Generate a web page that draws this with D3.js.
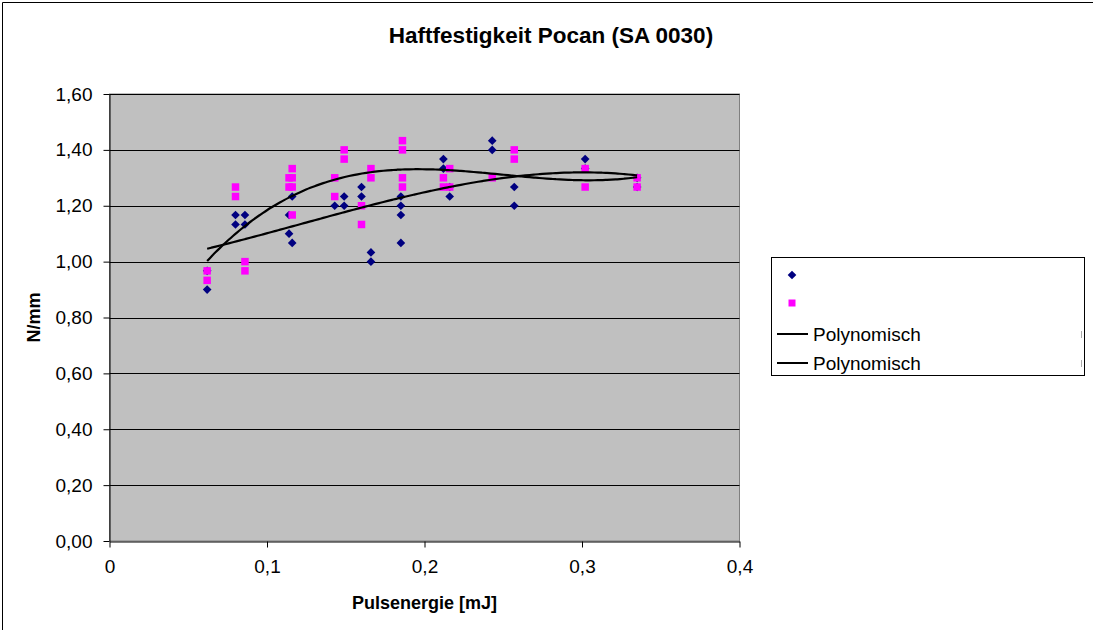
<!DOCTYPE html>
<html>
<head>
<meta charset="utf-8">
<script src="https://cdn.jsdelivr.net/npm/d3@7/dist/d3.min.js"></script>
<style>
  html, body { margin: 0; padding: 0; background: #fff; }
  svg { display: block; }
  text { font-family: "Liberation Sans", Arial, sans-serif; }
</style>
</head>
<body>
<svg id="chart" width="1093" height="630"></svg>
<script>
// ---- Data ----
const title = "Haftfestigkeit Pocan (SA 0030)";
const xTitle = "Pulsenergie [mJ]";
const yTitle = "N/mm";
const xTicks = [0, 0.1, 0.2, 0.3, 0.4];
const yTicks = [0, 0.2, 0.4, 0.6, 0.8, 1.0, 1.2, 1.4, 1.6];
const legendLabels = ["", "", "Polynomisch", "Polynomisch"];

// Series 1 (navy diamonds)
const seriesAx = [0.062, 0.062, 0.080, 0.080, 0.086, 0.086, 0.114, 0.114, 0.116, 0.116,
                  0.143, 0.149, 0.149, 0.160, 0.160, 0.166, 0.166,
                  0.185, 0.185, 0.185, 0.185, 0.212, 0.212, 0.216, 0.216,
                  0.243, 0.243, 0.257, 0.257, 0.302, 0.302, 0.335, 0.335];
const seriesAy = [0.900, 0.967, 1.167, 1.133, 1.167, 1.133, 1.167, 1.100, 1.233, 1.067,
                  1.200, 1.233, 1.200, 1.267, 1.233, 1.033, 1.000,
                  1.233, 1.200, 1.167, 1.067, 1.367, 1.333, 1.267, 1.233,
                  1.433, 1.400, 1.267, 1.200, 1.367, 1.333, 1.300, 1.267];

// Series 2 (magenta squares)
const seriesBx = [0.062, 0.062, 0.080, 0.080, 0.086, 0.086, 0.114, 0.114,
                  0.116, 0.116, 0.116, 0.116, 0.143, 0.143, 0.149, 0.149,
                  0.160, 0.160, 0.166, 0.166, 0.186, 0.186, 0.186, 0.186,
                  0.212, 0.212, 0.216, 0.216, 0.243, 0.257, 0.257,
                  0.302, 0.302, 0.335, 0.335];
const seriesBy = [0.967, 0.933, 1.267, 1.233, 1.000, 0.967, 1.300, 1.267,
                  1.333, 1.300, 1.267, 1.167, 1.300, 1.233, 1.400, 1.367,
                  1.200, 1.133, 1.333, 1.300, 1.433, 1.400, 1.300, 1.267,
                  1.300, 1.267, 1.333, 1.267, 1.300, 1.400, 1.367,
                  1.333, 1.267, 1.300, 1.267];

const trendOrder = 3;

// ---- Layout ----
const W = 1093, H = 630;
const plot = { left: 109.5, right: 739.5, top: 94, bottom: 541 };
const fmt = d3.format(".2f");
const comma = v => String(v).replace(".", ",");

const svg = d3.select("#chart");

// outer border
svg.append("path")
  .attr("d", `M2.5,${H + 5} L2.5,2.5 L${W + 5},2.5`)
  .attr("fill", "none").attr("stroke", "#000").attr("stroke-width", 1);

const x = d3.scaleLinear().domain([0, 0.4]).range([plot.left, plot.right]);
const y = d3.scaleLinear().domain([0, 1.6]).range([plot.bottom, plot.top]);

// plot background
svg.append("rect")
  .attr("x", plot.left).attr("y", plot.top)
  .attr("width", plot.right - plot.left).attr("height", plot.bottom - plot.top)
  .attr("fill", "#c0c0c0").attr("stroke", "#808080").attr("stroke-width", 1);

// gridlines
svg.append("g").selectAll("line").data(yTicks.filter(v => v > 0)).join("line")
  .attr("x1", plot.left).attr("x2", plot.right)
  .attr("y1", d => Math.round(y(d)) + 0.5).attr("y2", d => Math.round(y(d)) + 0.5)
  .attr("stroke", "#000").attr("stroke-width", 1.2);

// axes
const xAxis = d3.axisBottom(x).tickValues(xTicks).tickSize(6).tickSizeOuter(0)
  .tickFormat(d => d === 0 ? "0" : comma(d3.format(".1f")(d)));
const gx = svg.append("g").attr("transform", `translate(0,${plot.bottom + 0.5})`).call(xAxis);
gx.select(".domain").attr("stroke", "#000");
gx.selectAll(".tick line").attr("stroke", "#000");
gx.selectAll(".tick text").attr("font-size", 19).attr("fill", "#000")
  .attr("font-family", "Liberation Sans, Arial, sans-serif").attr("dy", "1.2em");

const yAxis = d3.axisLeft(y).tickValues(yTicks).tickSize(6).tickSizeOuter(0)
  .tickFormat(d => comma(fmt(d)));
const gy = svg.append("g").attr("transform", `translate(${plot.left},0)`).call(yAxis);
gy.select(".domain").attr("stroke", "#000");
gy.selectAll(".tick line").attr("stroke", "#000");
gy.selectAll(".tick text").attr("font-size", 19).attr("fill", "#000")
  .attr("font-family", "Liberation Sans, Arial, sans-serif").attr("x", -17);

// titles
svg.append("text").attr("x", 551).attr("y", 43).attr("text-anchor", "middle")
  .attr("font-size", 22.5).attr("font-weight", "bold").text(title);
svg.append("text").attr("x", (plot.left + plot.right) / 2).attr("y", 609).attr("text-anchor", "middle")
  .attr("font-size", 18).attr("font-weight", "bold").text(xTitle);
svg.append("text").attr("transform", `translate(40,${(plot.top + plot.bottom) / 2}) rotate(-90)`)
  .attr("text-anchor", "middle").attr("font-size", 18).attr("font-weight", "bold").text(yTitle);

// markers
const diamond = d3.symbol().type(d3.symbolDiamond2).size(48);
const clipId = "plotclip";
svg.append("clipPath").attr("id", clipId).append("rect")
  .attr("x", plot.left).attr("y", plot.top)
  .attr("width", plot.right - plot.left).attr("height", plot.bottom - plot.top);

const dataA = seriesAx.map((v, i) => [v, seriesAy[i]]);
const dataB = seriesBx.map((v, i) => [v, seriesBy[i]]);

svg.append("g").selectAll("path").data(dataA).join("path")
  .attr("transform", d => `translate(${x(d[0])},${y(d[1])})`)
  .attr("d", diamond).attr("fill", "#000080");

const sq = 7.5;
svg.append("g").selectAll("rect").data(dataB).join("rect")
  .attr("x", d => x(d[0]) - sq / 2).attr("y", d => y(d[1]) - sq / 2)
  .attr("width", sq).attr("height", sq).attr("fill", "#ff00ff");

// polynomial least squares fit (trendline, as the original chart computes it)
function polyFit(xs, ys, order) {
  const n = order + 1;
  const A = Array.from({ length: n }, () => new Array(n + 1).fill(0));
  for (let k = 0; k < xs.length; k++) {
    for (let i = 0; i < n; i++) {
      for (let j = 0; j < n; j++) A[i][j] += Math.pow(xs[k], i + j);
      A[i][n] += ys[k] * Math.pow(xs[k], i);
    }
  }
  for (let c = 0; c < n; c++) {
    let p = c;
    for (let r = c + 1; r < n; r++) if (Math.abs(A[r][c]) > Math.abs(A[p][c])) p = r;
    [A[c], A[p]] = [A[p], A[c]];
    for (let r = 0; r < n; r++) {
      if (r === c) continue;
      const f = A[r][c] / A[c][c];
      for (let j = c; j <= n; j++) A[r][j] -= f * A[c][j];
    }
  }
  return A.map((row, i) => row[n] / row[i]);
}
function trend(xs, ys) {
  const coef = polyFit(xs, ys, trendOrder);
  const x0 = d3.min(xs), x1 = d3.max(xs);
  return d3.range(0, 101).map(i => {
    const xv = x0 + (x1 - x0) * i / 100;
    return [xv, coef.reduce((s, c, k) => s + c * Math.pow(xv, k), 0)];
  });
}
const line = d3.line().x(d => x(d[0])).y(d => y(d[1])).curve(d3.curveMonotoneX);
[trend(seriesAx, seriesAy), trend(seriesBx, seriesBy)].forEach(t => {
  svg.append("path").datum(t).attr("d", line).attr("fill", "none")
    .attr("stroke", "#000").attr("stroke-width", 2.2).attr("clip-path", `url(#${clipId})`);
});

// legend
const lg = svg.append("g");
lg.append("rect").attr("x", 771.5).attr("y", 257.5).attr("width", 313).attr("height", 118)
  .attr("fill", "#fff").attr("stroke", "#000").attr("stroke-width", 1);
const rowsY = [275, 303, 334, 363];
lg.append("path").attr("transform", `translate(792,${rowsY[0]})`).attr("d", diamond).attr("fill", "#000080");
lg.append("rect").attr("x", 792 - 3.5).attr("y", rowsY[1] - 3.5).attr("width", 7).attr("height", 7).attr("fill", "#ff00ff");
[2, 3].forEach(i => {
  lg.append("line").attr("x1", 777).attr("x2", 808).attr("y1", rowsY[i]).attr("y2", rowsY[i])
    .attr("stroke", "#000").attr("stroke-width", 2);
  lg.append("line").attr("x1", 1081.5).attr("x2", 1081.5).attr("y1", rowsY[i] - 3).attr("y2", rowsY[i] + 4)
    .attr("stroke", "#aaa").attr("stroke-width", 1);
});
legendLabels.forEach((t, i) => {
  if (!t) return;
  lg.append("text").attr("x", 813).attr("y", rowsY[i] + 7).attr("font-size", 19).text(t);
});
</script>
</body>
</html>
